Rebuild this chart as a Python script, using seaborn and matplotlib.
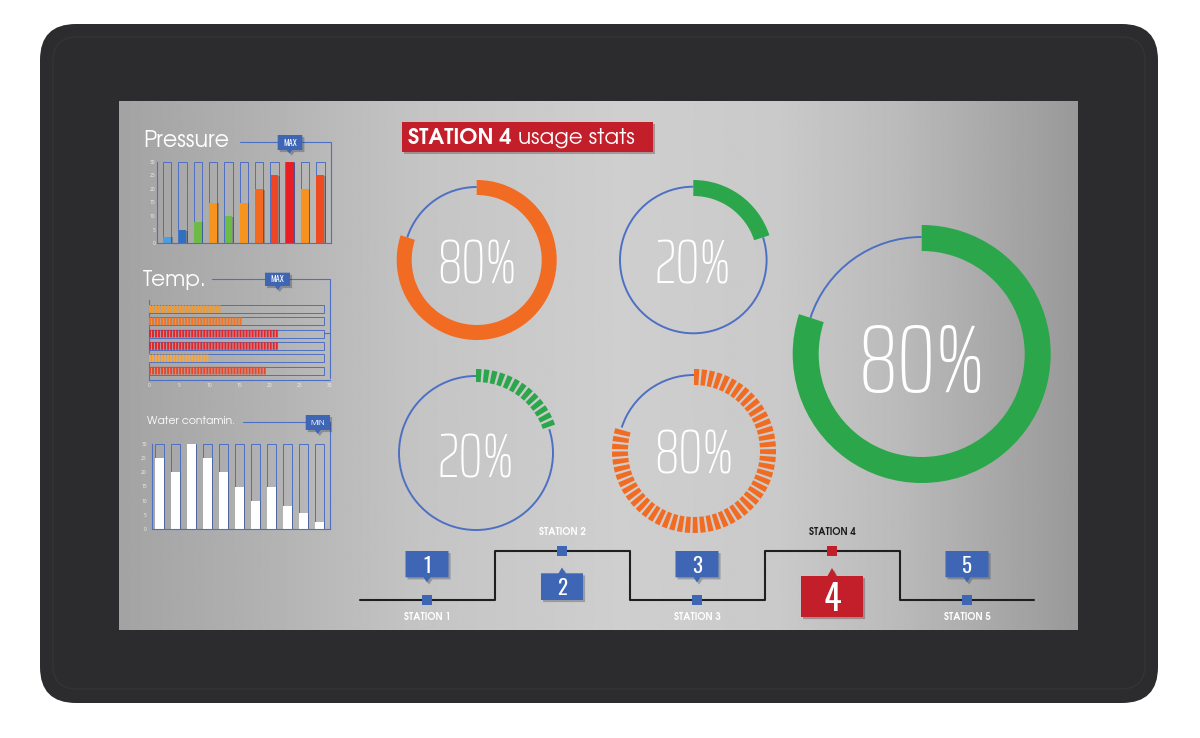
import numpy as np
import matplotlib
matplotlib.use("Agg")
import matplotlib.pyplot as plt
import matplotlib.patheffects as pe
from matplotlib.patches import FancyBboxPatch, Rectangle, Polygon, Wedge, Arc
import seaborn as sns

# ---------------- data ----------------
pressure_values = [2.5, 5, 8, 15, 10, 15, 20, 25, 30, 20, 25]
pressure_colors = ["#4a9ee0", "#2e71c1", "#6dbb47", "#f7941e", "#6dbb47", "#f7941e",
                   "#f2691f", "#ee4524", "#e81e27", "#f6921e", "#ef4b23"]
temp_values = [12, 15.5, 21.5, 21.5, 10, 19.5]
temp_colors = ["#f49a2c", "#f07524", "#e4252b", "#e4252b", "#f6a744", "#ea472a"]
water_values = [25, 20, 30, 25, 20, 15, 10, 15, 8, 5.5, 2.5]
gauge_capacity = 30      # full height of the vertical gauges
temp_capacity = 29       # full length of the horizontal gauges
scale_ticks = [0, 5, 10, 15, 20, 25, 30]

ring_values = [80, 20, 20, 80, 80]
ring_colors = ["#f26b22", "#2ba64a", "#2ba64a", "#f26b22", "#2ba64a"]
ring_segmented = [False, False, True, True, False]

station_names = ["STATION 1", "STATION 2", "STATION 3", "STATION 4", "STATION 5"]
station_numbers = ["1", "2", "3", "4", "5"]
station_raised = [False, True, False, True, False]
active_station = "4"

title_bold = "STATION 4"
title_light = "usage stats"

# ---------------- styling ----------------
W, H = 1200, 738
CHART_BLUE = "#4d70c4"
TAG_BLUE = "#3f66b5"
RED = "#c21f2a"
HEAD = ["TeX Gyre Adventor", "DejaVu Sans"]
PCT = ["Saira ExtraCondensed", "DejaVu Sans"]
NUM = ["Oswald", "DejaVu Sans"]

sns.set_theme(style="white")
plt.rcParams["font.family"] = ["Open Sans", "DejaVu Sans"]

fig = plt.figure(figsize=(W / 100, H / 100), dpi=100)
fig.patch.set_facecolor("white")
bg = fig.add_axes([0, 0, 1, 1])
bg.set_xlim(0, W)
bg.set_ylim(H, 0)
bg.axis("off")

# tablet bezel
bg.add_patch(FancyBboxPatch((40, 24), 1118, 679, boxstyle="round,pad=0,rounding_size=36",
                            fc="#2c2c2e", ec="none", zorder=0))
bg.add_patch(FancyBboxPatch((53, 37), 1092, 652, boxstyle="round,pad=0,rounding_size=24",
                            fc="none", ec="#343437", lw=1.0, zorder=0.5))

# screen with soft horizontal lighting
grad_x = [119, 250, 420, 620, 780, 900, 1078]
grad_v = [0.64, 0.69, 0.77, 0.81, 0.79, 0.73, 0.60]

cols = np.linspace(119, 1078, 800)
shade = np.interp(cols, grad_x, grad_v)
bg.imshow(np.repeat(shade[None, :], 2, axis=0), extent=(119, 1078, 630, 101), cmap="gray",
          vmin=0, vmax=1, aspect="auto", interpolation="bilinear", zorder=1)
bg.set_xlim(0, W)
bg.set_ylim(H, 0)

shadow = [pe.SimplePatchShadow(offset=(1.5, -1.5), alpha=0.28), pe.Normal()]


def callout(x0, y0, x1, y1, tip, color, half=3.5, z=7):
    tx, ty = tip
    if ty > y1:
        verts = [(x0, y0), (x1, y0), (x1, y1), (tx + half, y1), (tx, ty), (tx - half, y1), (x0, y1)]
    else:
        verts = [(x0, y1), (x1, y1), (x1, y0), (tx + half, y0), (tx, ty), (tx - half, y0), (x0, y0)]
    poly = Polygon(verts, closed=True, fc=color, ec="none", zorder=z)
    poly.set_path_effects(shadow)
    bg.add_patch(poly)


def px_axes(x0, y0, x1, y1):
    ax = fig.add_axes([x0 / W, 1 - y1 / H, (x1 - x0) / W, (y1 - y0) / H])
    ax.patch.set_visible(False)
    for s in ("top", "right"):
        ax.spines[s].set_visible(False)
    for s in ("left", "bottom"):
        ax.spines[s].set_color(CHART_BLUE)
        ax.spines[s].set_linewidth(0.8)
    return ax


bar_shadow = [pe.SimplePatchShadow(offset=(1.2, -0.6), alpha=0.3), pe.Normal()]

# ---------------- Pressure ----------------
bg.text(143, 147, "Pressure", fontsize=16, family=HEAD, color="white", zorder=6)
bg.plot([240, 330.7, 330.7], [142.3, 142.3, 243.3], color=CHART_BLUE, lw=0.8, zorder=5)
callout(277.7, 135, 302.3, 150, (289.5, 153.5), TAG_BLUE, half=3)
bg.text(290, 145.6, "MAX", fontsize=6, family=NUM, color="white",
        ha="center", va="baseline", zorder=8)

cats_p = [f"P{i + 1}" for i in range(len(pressure_values))]
axp = px_axes(156.7, 161.7, 330.7, 243.3)
sns.barplot(x=cats_p, y=[gauge_capacity] * len(cats_p), color=CHART_BLUE, fill=False,
            width=0.55, linewidth=0.7, errorbar=None, ax=axp)
n0 = len(axp.patches)
sns.barplot(x=cats_p, y=pressure_values, hue=cats_p, palette=dict(zip(cats_p, pressure_colors)),
            saturation=1, width=0.5, linewidth=0, errorbar=None, legend=False, ax=axp)
for p in axp.patches[n0:]:
    p.set_path_effects(bar_shadow)
axp.set_xlim(-0.69, 10.68)
axp.set_ylim(0, gauge_capacity)
axp.set_xticks([])
axp.set_yticks(scale_ticks)
axp.tick_params(axis="y", length=0, pad=1, labelsize=3.5, labelcolor="#f2f2f2")
axp.set_xlabel("")
axp.set_ylabel("")

# ---------------- Temp. ----------------
bg.text(143, 286, "Temp.", fontsize=15.5, family=HEAD, color="white", zorder=6)
bg.plot([211.7, 330, 330], [279, 279, 378], color=CHART_BLUE, lw=0.8, zorder=5)
bg.plot([324.3, 330], [333, 333], color=CHART_BLUE, lw=0.8, zorder=5)
callout(265, 272.7, 290, 286, (277.7, 290), TAG_BLUE, half=3)
bg.text(277.5, 282.2, "MAX", fontsize=6, family=NUM, color="white",
        ha="center", va="baseline", zorder=8)

cats_t = [f"T{i + 1}" for i in range(len(temp_values))]
axt = px_axes(149, 300, 330, 380)
sns.barplot(x=[temp_capacity] * len(cats_t), y=cats_t, orient="h", color=CHART_BLUE, fill=False,
            width=0.66, linewidth=0.7, errorbar=None, ax=axt)
for i, (v, c) in enumerate(zip(temp_values, temp_colors)):
    lefts = np.arange(0, v, 0.5)
    widths = np.minimum(0.34, v - lefts)
    axt.barh(np.full(len(lefts), i), widths, left=lefts, height=0.62, color=c, linewidth=0,
             snap=False, zorder=3)
axt.set_xlim(0, 30)
axt.set_ylim(5.76, -0.73)
axt.set_yticks([])
axt.set_xticks(scale_ticks)
axt.tick_params(axis="x", length=0, pad=2.5, labelsize=3.5, labelcolor="#f2f2f2")
axt.set_xlabel("")
axt.set_ylabel("")

# ---------------- Water contamination ----------------
bg.text(147, 424, "Water contamin.", fontsize=7.8, family=HEAD, color="white", zorder=6)
bg.plot([243, 330, 330], [421.7, 421.7, 529], color=CHART_BLUE, lw=0.8, zorder=5)
callout(305.7, 415, 330, 430, (317.7, 434), TAG_BLUE, half=3)
bg.text(317.8, 425, "MIN", fontsize=5.5, family=HEAD, color="white", ha="center",
        va="baseline", zorder=8)

cats_w = [f"W{i + 1}" for i in range(len(water_values))]
axw = px_axes(151.7, 444, 330, 529)
sns.barplot(x=cats_w, y=[gauge_capacity] * len(cats_w), color=CHART_BLUE, fill=False,
            width=0.54, linewidth=0.7, errorbar=None, ax=axw)
n0 = len(axw.patches)
sns.barplot(x=cats_w, y=water_values, color="white", saturation=1, width=0.54, linewidth=0,
            errorbar=None, ax=axw)
for p in axw.patches[n0:]:
    p.set_path_effects(bar_shadow)
axw.set_xlim(-0.475, 10.67)
axw.set_ylim(0, gauge_capacity)
axw.set_xticks([])
axw.set_yticks(scale_ticks)
axw.tick_params(axis="y", length=0, pad=3.5, labelsize=3.5, labelcolor="#f2f2f2")
axw.set_xlabel("")
axw.set_ylabel("")

# ---------------- title ----------------
title_box = Rectangle((401.7, 122.3), 251, 29.4, fc=RED, ec="none", zorder=6)
title_box.set_path_effects(shadow)
bg.add_patch(title_box)
t1 = bg.text(408, 143.5, title_bold, fontsize=15.5, family=HEAD, weight="bold", color="white",
             va="baseline", zorder=7)
bg.annotate(title_light, xy=(1, 0), xycoords=t1, xytext=(4.5, 0), textcoords="offset points",
            fontsize=15.5, family=HEAD, color="white", va="bottom", ha="left", zorder=7)

# ---------------- usage rings ----------------
ring_geom = [
    dict(c=(476.7, 260), r_in=65, r_out=80, r_line=73, fs=44, ty=260.5),
    dict(c=(693.3, 260), r_in=64, r_out=80, r_line=73.3, fs=44, ty=260),
    dict(c=(476, 453), r_in=71, r_out=84, r_line=77, fs=44, ty=454),
    dict(c=(694, 451), r_in=66, r_out=82, r_line=76, fs=44, ty=450),
    dict(c=(921.7, 354), r_in=103, r_out=129, r_line=117, fs=70, ty=356),
]
seg_step = 72 / 13

for v, col, segd, g in zip(ring_values, ring_colors, ring_segmented, ring_geom):
    cx, cy = g["c"]
    end = 360 * v / 100 - 90      # angle measured with the y axis pointing down
    bg.add_patch(Arc((cx, cy), 2 * g["r_line"], 2 * g["r_line"], theta1=end, theta2=270,
                     color=CHART_BLUE, lw=1.4, zorder=4))
    width = g["r_out"] - g["r_in"]
    if segd:
        for a in np.arange(-90, end - 1e-6, seg_step):
            bg.add_patch(Wedge((cx, cy), g["r_out"], a, min(a + seg_step * 0.68, end),
                               width=width, fc=col, ec="none", zorder=5))
    else:
        bg.add_patch(Wedge((cx, cy), g["r_out"], -90, end, width=width, fc=col, ec="none", zorder=5))
    bg.text(cx, g["ty"], f"{v}%", fontsize=g["fs"], family=PCT, weight=200, color="white",
            ha="center", va="center_baseline", zorder=6)

# ---------------- station line ----------------
station_x = [427, 562, 697, 832, 967]
low_y, high_y = 600, 551
line_x = [360] + station_x + [1034]
line_y = [low_y] + [high_y if r else low_y for r in station_raised] + [low_y]
bg.plot(line_x, line_y, drawstyle="steps-mid", color="#1f1f1f", lw=1.5, zorder=5)

for x, name, num, raised in zip(station_x, station_names, station_numbers, station_raised):
    active = num == active_station
    y = high_y if raised else low_y
    bg.add_patch(Rectangle((x - 5, y - 5), 10, 10, fc=RED if active else TAG_BLUE, ec="none", zorder=6))
    label_y = 535 if raised else 620
    bg.text(x, label_y, name, fontsize=7, family=HEAD, weight="bold", ha="center", va="baseline",
            color="#1a1a1a" if active else "white", zorder=6)
    if active:
        box = (x - 31, 576, x + 31, 617)
        tip = (x, 568)
        fs = 26
    elif raised:
        box = (x - 21, 573.3, x + 21, 600)
        tip = (x, 567.5)
        fs = 15
    else:
        box = (x - 21.5, 551, x + 21.5, 577.3)
        tip = (x, 582.5)
        fs = 15
    callout(*box, tip, RED if active else TAG_BLUE, half=4.5 if active else 3.5)
    bg.text(x, (box[1] + box[3]) / 2, num, fontsize=fs, family=NUM,
            color="white", ha="center", va="center_baseline", zorder=8)

fig.savefig("out.png", dpi=100)
